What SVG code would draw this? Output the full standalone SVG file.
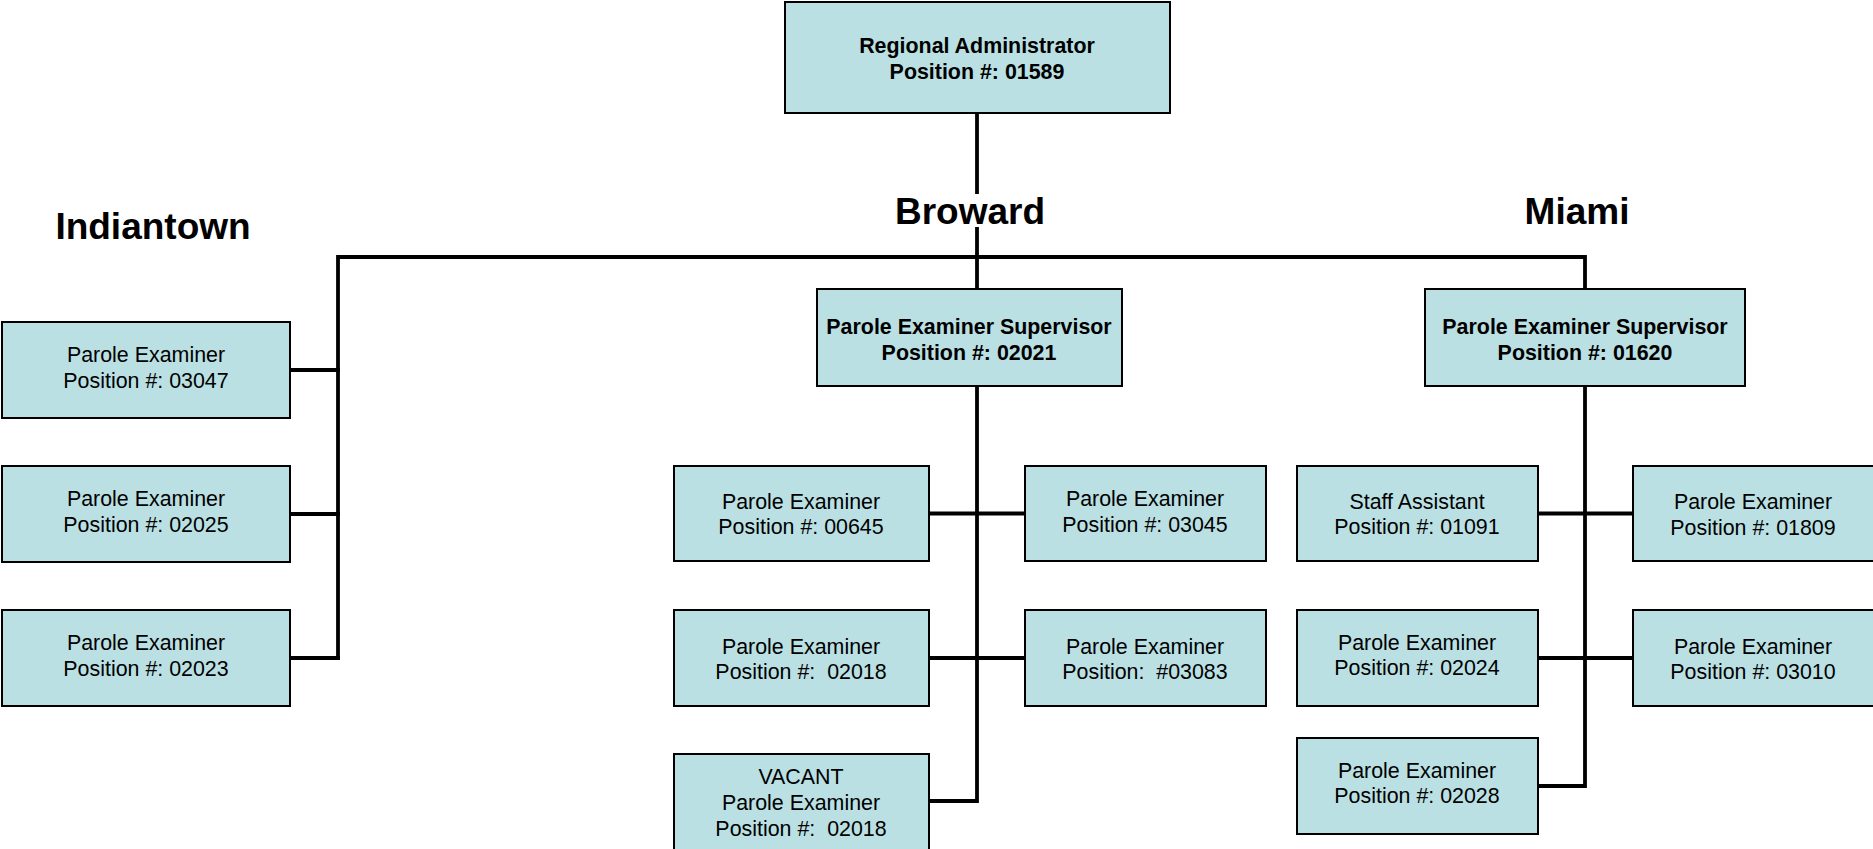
<svg xmlns="http://www.w3.org/2000/svg" width="1873" height="849" viewBox="0 0 1873 849">
<style>
.box{fill:#BAE0E3;stroke:#000;stroke-width:2}
.t{font-family:"Liberation Sans",Arial,sans-serif;font-size:21.4px;fill:#000;text-anchor:middle;white-space:pre}
.b{font-weight:bold}
.h{font-family:"Liberation Sans",Arial,sans-serif;font-size:37px;font-weight:bold;fill:#000;text-anchor:middle}
.c{stroke:#000;stroke-width:3.8;fill:none;stroke-linecap:square}
</style>
<rect width="1873" height="849" fill="#fff"/>
<g id="connectors">
<path class="c" d="M977,113 V289"/>
<path class="c" d="M338,658 V257 H1585 V289"/>
<path class="c" d="M290,370 H338 M290,514 H338 M290,658 H338"/>
<path class="c" d="M977,386 V801 H929 M929,513.5 H1025 M929,658 H1025"/>
<path class="c" d="M1585,386 V786 H1538 M1538,513.5 H1633 M1538,658 H1633"/>
</g>
<g id="labels">
<text class="h" x="153" y="239">Indiantown</text>
<rect x="891" y="194" width="158" height="33" fill="#fff"/>
<text class="h" x="970" y="224">Broward</text>
<text class="h" x="1577" y="224">Miami</text>
</g>
<g id="n-top"><rect class="box" x="785" y="2" width="385" height="111"/>
<text class="t b" x="977" y="53">Regional Administrator</text><text class="t b" x="977" y="79">Position #: 01589</text></g>
<g id="n-it1"><rect class="box" x="2" y="322" width="288" height="96"/>
<text class="t" x="146" y="362">Parole Examiner</text><text class="t" x="146" y="388">Position #: 03047</text></g>
<g id="n-it2"><rect class="box" x="2" y="466" width="288" height="96"/>
<text class="t" x="146" y="506">Parole Examiner</text><text class="t" x="146" y="532">Position #: 02025</text></g>
<g id="n-it3"><rect class="box" x="2" y="610" width="288" height="96"/>
<text class="t" x="146" y="650">Parole Examiner</text><text class="t" x="146" y="676">Position #: 02023</text></g>
<g id="n-bsup"><rect class="box" x="817" y="289" width="305" height="97"/>
<text class="t b" x="969" y="334">Parole Examiner Supervisor</text><text class="t b" x="969" y="360">Position #: 02021</text></g>
<g id="n-msup"><rect class="box" x="1425" y="289" width="320" height="97"/>
<text class="t b" x="1585" y="334">Parole Examiner Supervisor</text><text class="t b" x="1585" y="360">Position #: 01620</text></g>
<g id="n-b1"><rect class="box" x="674" y="466" width="255" height="95"/>
<text class="t" x="801" y="509">Parole Examiner</text><text class="t" x="801" y="534">Position #: 00645</text></g>
<g id="n-b2"><rect class="box" x="1025" y="466" width="241" height="95"/>
<text class="t" x="1145" y="506">Parole Examiner</text><text class="t" x="1145" y="532">Position #: 03045</text></g>
<g id="n-b3"><rect class="box" x="674" y="610" width="255" height="96"/>
<text class="t" x="801" y="654">Parole Examiner</text><text class="t" x="801" y="679">Position #:  02018</text></g>
<g id="n-b4"><rect class="box" x="1025" y="610" width="241" height="96"/>
<text class="t" x="1145" y="654">Parole Examiner</text><text class="t" x="1145" y="679">Position:  #03083</text></g>
<g id="n-b5"><rect class="box" x="674" y="754" width="255" height="97"/>
<text class="t" x="801" y="784">VACANT</text><text class="t" x="801" y="810">Parole Examiner</text><text class="t" x="801" y="836">Position #:  02018</text></g>
<g id="n-m1"><rect class="box" x="1297" y="466" width="241" height="95"/>
<text class="t" x="1417" y="509">Staff Assistant</text><text class="t" x="1417" y="534">Position #: 01091</text></g>
<g id="n-m2"><rect class="box" x="1633" y="466" width="242" height="95"/>
<text class="t" x="1753" y="509">Parole Examiner</text><text class="t" x="1753" y="535">Position #: 01809</text></g>
<g id="n-m3"><rect class="box" x="1297" y="610" width="241" height="96"/>
<text class="t" x="1417" y="650">Parole Examiner</text><text class="t" x="1417" y="675">Position #: 02024</text></g>
<g id="n-m4"><rect class="box" x="1633" y="610" width="242" height="96"/>
<text class="t" x="1753" y="654">Parole Examiner</text><text class="t" x="1753" y="679">Position #: 03010</text></g>
<g id="n-m5"><rect class="box" x="1297" y="738" width="241" height="96"/>
<text class="t" x="1417" y="778">Parole Examiner</text><text class="t" x="1417" y="803">Position #: 02028</text></g>
</svg>
